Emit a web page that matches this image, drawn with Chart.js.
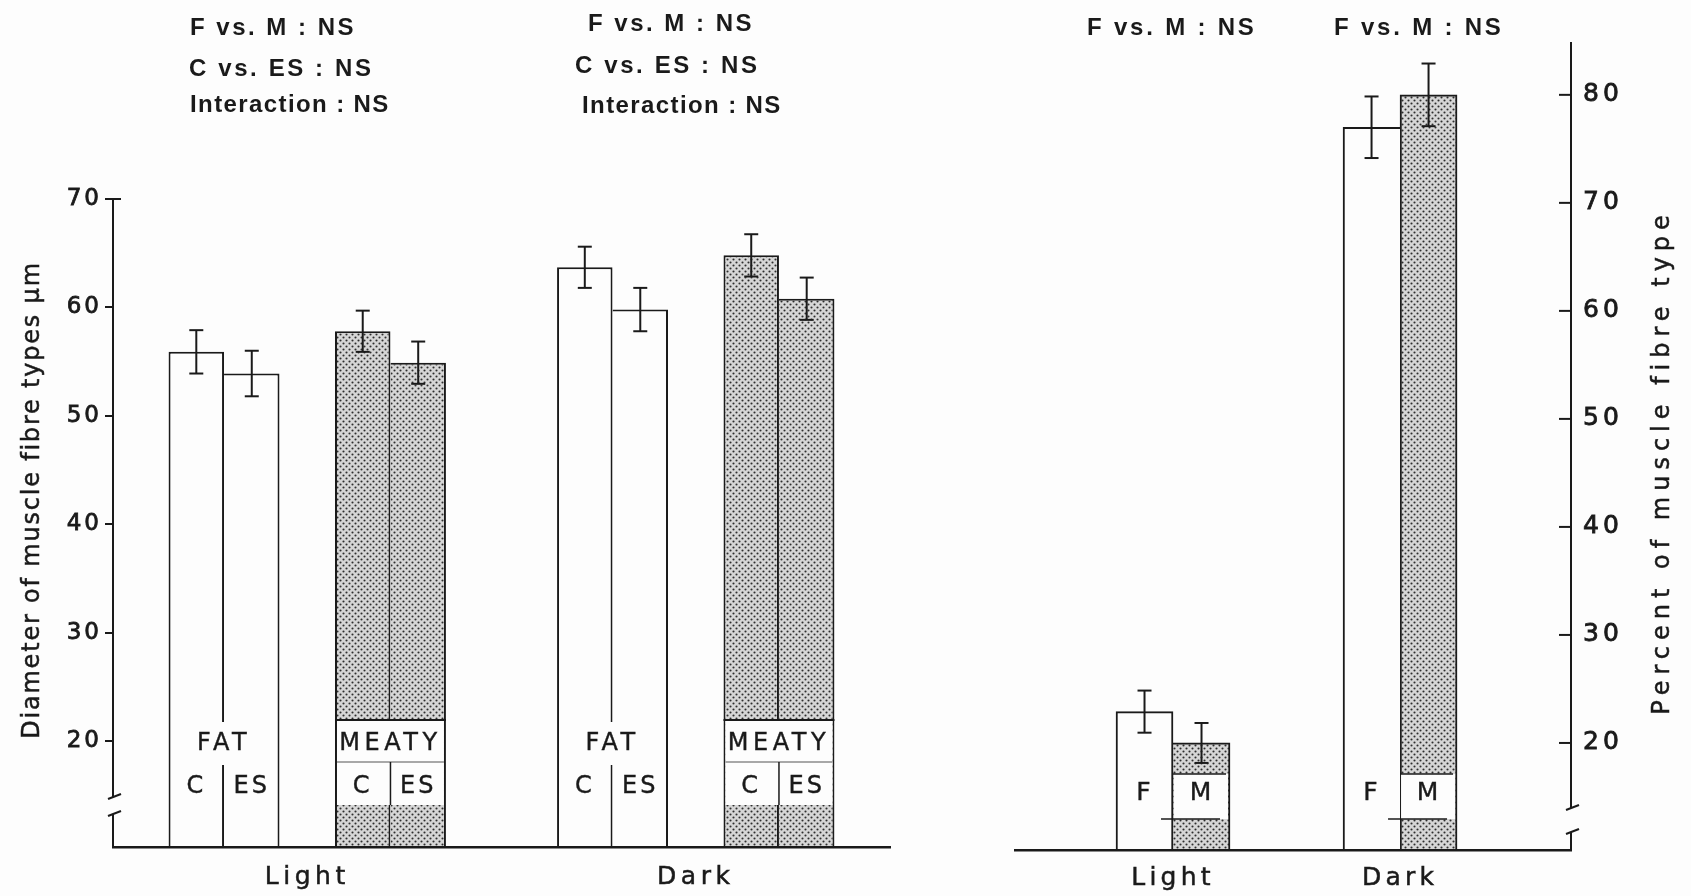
<!DOCTYPE html>
<html lang="en">
<head>
<meta charset="UTF-8">
<title>Muscle fibre types</title>
<style>
    body { margin: 0; background: #fdfdfd; }
    .wrap { position: relative; width: 1691px; height: 896px; }
    .wrap canvas { position: absolute; left: 0; top: 0; }
</style>
</head>
<body>
<div class="wrap">
    <canvas id="diameter" width="1691" height="896"></canvas>
    <canvas id="percent" width="1691" height="896"></canvas>
</div>

<script src="https://cdn.jsdelivr.net/npm/chart.js@4"></script>
<script>
// ---- data ----
var groups = ['Light', 'Dark'];
var breeds = ['FAT', 'MEATY'];
var treatments = ['C', 'ES'];
var fatC = [55.9, 63.7];
var fatES = [53.9, 59.8];
var meatyC = [57.8, 64.8];
var meatyES = [54.9, 60.8];
var fatCErr = [2.0, 1.9];
var fatESErr = [2.1, 2.0];
var meatyCErr = [1.9, 1.95];
var meatyESErr = [1.95, 1.95];
var diameterTicks = [20, 30, 40, 50, 60, 70];

var sexes = ['F', 'M'];
var pctF = [22.9, 77.0];
var pctM = [20.0, 80.0];
var pctFErr = [1.95, 2.85];
var pctMErr = [1.85, 2.9];
var percentTicks = [20, 30, 40, 50, 60, 70, 80];

var statsDiameter = [
    ['F vs. M : NS', 'C vs. ES : NS', 'Interaction : NS'],
    ['F vs. M : NS', 'C vs. ES : NS', 'Interaction : NS']
];
var statsPercent = ['F vs. M : NS', 'F vs. M : NS'];

var ink = '#1a1a1a';
var paper = '#fdfdfd';
var sans = 'DejaVu Sans';
var statFont = 'Liberation Sans';

// stippled fill for the meaty / male bars
function stipple(ctx) {
    var c = document.createElement('canvas');
    c.width = 6; c.height = 6;
    var g = c.getContext('2d');
    g.fillStyle = '#d6d6d6';
    g.fillRect(0, 0, 6, 6);
    g.fillStyle = '#2e2e2e';
    [[1.5, 1.5], [4.5, 4.5]].forEach(function (p) {
        g.beginPath();
        g.arc(p[0], p[1], 1.05, 0, Math.PI * 2);
        g.fill();
    });
    return ctx.createPattern(c, 'repeat');
}

function text(ctx, str, x, y, size, spacing, align, rot, family, weight, stroke) {
    ctx.save();
    ctx.font = (weight || 'normal') + ' ' + size + 'px "' + (family || sans) + '"';
    ctx.letterSpacing = spacing + 'px';
    ctx.fillStyle = ink;
    ctx.strokeStyle = ink;
    ctx.textAlign = align || 'center';
    ctx.textBaseline = 'middle';
    ctx.translate(x, y);
    if (rot) ctx.rotate(rot);
    ctx.fillText(str, 0, 0);
    if (stroke) {
        ctx.lineWidth = stroke;
        ctx.strokeText(str, 0, 0);
    }
    ctx.restore();
}

function line(ctx, x1, y1, x2, y2, w, color) {
    ctx.save();
    ctx.strokeStyle = color || ink;
    ctx.lineWidth = w;
    ctx.beginPath();
    ctx.moveTo(x1, y1);
    ctx.lineTo(x2, y2);
    ctx.stroke();
    ctx.restore();
}

function errorBars(chart) {
    var ctx = chart.ctx, ys = chart.scales.y;
    chart.data.datasets.forEach(function (ds, i) {
        if (!ds.err) return;
        chart.getDatasetMeta(i).data.forEach(function (bar, j) {
            var v = ds.data[j];
            if (v !== null && typeof v === 'object') v = v.y;
            var top = ys.getPixelForValue(v + ds.err[j]);
            var bot = ys.getPixelForValue(v - ds.err[j]);
            line(ctx, bar.x, top, bar.x, bot, 2);
            line(ctx, bar.x - 7, top, bar.x + 7, top, 2);
            line(ctx, bar.x - 7, bot, bar.x + 7, bot, 2);
        });
    });
}

function axisBreak(ctx, x, y1, y2) {
    ctx.save();
    ctx.fillStyle = paper;
    ctx.fillRect(x - 3, y1, 6, y2 - y1);
    ctx.restore();
    line(ctx, x - 5, y1 + 2, x + 8, y1 - 3, 2);
    line(ctx, x - 5, y2 + 2, x + 8, y2 - 3, 2);
}

// two bars share one divider: the taller bar of the pair draws it
function bar(label, data, partner, err, fill, first) {
    return {
        label: label,
        data: data,
        err: err,
        backgroundColor: fill,
        borderColor: ink,
        borderWidth: function (c) {
            var v = data[c.dataIndex], o = partner[c.dataIndex];
            if (v !== null && typeof v === 'object') { v = v.y; o = o.y; }
            var inner = v >= o ? 2 : 0;
            return first ? { top: 2, left: 2, right: inner, bottom: 0 }
                         : { top: 2, left: inner, right: 2, bottom: 0 };
        }
    };
}

// ---- left: fibre diameter ----
var dCtx = document.getElementById('diameter').getContext('2d');
var dots = stipple(dCtx);

var diameterPlugin = {
    id: 'diameterExtras',
    beforeDraw: function (chart) {
        chart.ctx.letterSpacing = '3px';
    },
    afterDatasetsDraw: function (chart) {
        var ctx = chart.ctx, base = chart.chartArea.bottom;
        var m = [0, 1, 3, 4].map(function (i) { return chart.getDatasetMeta(i).data; });
        groups.forEach(function (g, j) {
            // FAT pair
            var c = m[0][j], es = m[1][j];
            var mid = c.x + c.width / 2;
            ctx.fillStyle = paper;
            ctx.fillRect(mid - 32, base - 125, 64, 43);
            text(ctx, breeds[0], mid, base - 103, 24, 4.5, 'center', 0, sans, 'normal', 0.4);
            text(ctx, treatments[0], c.x, base - 60, 24, 3, 'center', 0, sans, 'normal', 0.4);
            text(ctx, treatments[1], es.x, base - 60, 24, 3, 'center', 0, sans, 'normal', 0.4);
            // MEATY pair
            var mc = m[2][j], me = m[3][j];
            var l = mc.x - mc.width / 2, r = me.x + me.width / 2, d = mc.x + mc.width / 2;
            ctx.fillStyle = paper;
            ctx.fillRect(l + 2, base - 127, r - l - 4, 85);
            line(ctx, l, base - 127, r, base - 127, 2);
            line(ctx, l + 2, base - 85, r - 2, base - 85, 1.2, '#555');
            line(ctx, d, base - 85, d, base - 42, 1.5);
            text(ctx, breeds[1], (l + r) / 2, base - 103, 24, 4.5, 'center', 0, sans, 'normal', 0.4);
            text(ctx, treatments[0], mc.x, base - 60, 24, 3, 'center', 0, sans, 'normal', 0.4);
            text(ctx, treatments[1], me.x, base - 60, 24, 3, 'center', 0, sans, 'normal', 0.4);
        });
        errorBars(chart);
        chart.ctx.letterSpacing = '4.5px';
    },
    afterDraw: function (chart) {
        var ctx = chart.ctx, a = chart.chartArea;
        ctx.letterSpacing = '0px';
        axisBreak(ctx, a.left, 797, 814);
        line(ctx, a.left - 1, a.top, a.left + 8, a.top, 2);
        text(ctx, 'Diameter of muscle fibre types \u00b5m', 33, 500, 24, 1.8, 'center', -Math.PI / 2, sans, 'normal', 0.5);
        var pos = [[[190, 28], [189, 69], [190, 105]], [[588, 24], [575, 66], [582, 106]]];
        var gap = [2.5, 2.6, 1.4];
        statsDiameter.forEach(function (lines, j) {
            lines.forEach(function (s, k) {
                text(ctx, s, pos[j][k][0], pos[j][k][1], 24, gap[k], 'left', 0, statFont, 'bold');
            });
        });
    }
};

new Chart(dCtx, {
    type: 'bar',
    data: {
        labels: groups,
        datasets: [
            bar(breeds[0] + ' ' + treatments[0], fatC, fatES, fatCErr, paper, true),
            bar(breeds[0] + ' ' + treatments[1], fatES, fatC, fatESErr, paper, false),
            { label: '', data: groups.map(function () { return null; }) },
            bar(breeds[1] + ' ' + treatments[0], meatyC, meatyES, meatyCErr, dots, true),
            bar(breeds[1] + ' ' + treatments[1], meatyES, meatyC, meatyESErr, dots, false)
        ]
    },
    options: {
        responsive: false,
        animation: false,
        layout: { padding: { top: 199, left: 0, right: 801, bottom: 0 } },
        datasets: { bar: { barPercentage: 1, categoryPercentage: 0.714 } },
        plugins: { legend: { display: false }, tooltip: { enabled: false } },
        scales: {
            x: {
                grid: { display: false, drawTicks: false },
                border: { color: ink, width: 2.5, z: 1 },
                ticks: {
                    color: ink, padding: 15, maxRotation: 0, z: 1,
                    textStrokeColor: ink, textStrokeWidth: 0.5,
                    font: { family: sans, size: 25 }
                },
                afterFit: function (s) { s.height = 49; }
            },
            y: {
                min: 10.22,
                max: 70,
                grid: { display: true, drawOnChartArea: false, drawTicks: true, tickLength: 8, color: ink, lineWidth: 2 },
                border: { color: ink, width: 2, z: 1 },
                ticks: { color: ink, padding: 3, textStrokeColor: ink, textStrokeWidth: 0.8, font: { family: sans, size: 23 } },
                afterBuildTicks: function (s) { s.ticks = diameterTicks.map(function (v) { return { value: v }; }); },
                afterFit: function (s) { s.width = 113; }
            }
        }
    },
    plugins: [diameterPlugin]
});

// ---- right: percent of fibre type ----
var pCtx = document.getElementById('percent').getContext('2d');
var dots2 = stipple(pCtx);

var percentPlugin = {
    id: 'percentExtras',
    beforeDraw: function (chart) {
        chart.ctx.letterSpacing = '4px';
    },
    afterDatasetsDraw: function (chart) {
        var ctx = chart.ctx, base = chart.chartArea.bottom, ys = chart.scales.y;
        var f = chart.getDatasetMeta(0).data, mm = chart.getDatasetMeta(1).data;
        f.forEach(function (fb, j) {
            var mb = mm[j];
            var l = mb.x - mb.width / 2, r = mb.x + mb.width / 2;
            ctx.fillStyle = paper;
            ctx.fillRect(l + 1, base - 76, r - l - 3, 45);
            line(ctx, l, base - 76, r - 4, base - 76, 1.5);
            line(ctx, l - 12, base - 31, r - 10, base - 31, 1.5);
            text(ctx, sexes[0], fb.x, base - 57, 25, 2, 'center', 0, sans, 'normal', 0.4);
            text(ctx, sexes[1], mb.x, base - 57, 25, 2, 'center', 0, sans, 'normal', 0.4);
        });
        errorBars(chart);
        // inward tick marks on the right axis
        var ax = chart.chartArea.right;
        percentTicks.forEach(function (v) {
            var y = ys.getPixelForValue(v);
            line(ctx, ax - 12, y, ax, y, 2);
        });
        chart.ctx.letterSpacing = '4.2px';
    },
    afterDraw: function (chart) {
        var ctx = chart.ctx, a = chart.chartArea;
        ctx.letterSpacing = '0px';
        axisBreak(ctx, a.right, 808, 832);
        text(ctx, 'Percent of muscle fibre type', 1663, 462, 24, 6, 'center', -Math.PI / 2, sans, 'normal', 0.5);
        var pos = [[1087, 28], [1334, 28]];
        statsPercent.forEach(function (s, j) {
            text(ctx, s, pos[j][0], pos[j][1], 24, 2.8, 'left', 0, statFont, 'bold');
        });
    }
};

function points(vals) {
    return vals.map(function (v, i) { return { x: i + 1, y: v }; });
}
var fPts = points(pctF), mPts = points(pctM);

new Chart(pCtx, {
    type: 'bar',
    data: {
        datasets: [
            bar(sexes[0], fPts, mPts, pctFErr, paper, true),
            bar(sexes[1], mPts, fPts, pctMErr, dots2, false)
        ]
    },
    options: {
        responsive: false,
        animation: false,
        layout: { padding: { top: 43, left: 1015, right: 0, bottom: 0 } },
        datasets: { bar: { barThickness: 57 } },
        plugins: { legend: { display: false }, tooltip: { enabled: false } },
        scales: {
            x: {
                type: 'linear',
                offset: false,
                min: 0.304,
                max: 2.753,
                grid: { display: false, drawTicks: false },
                border: { color: ink, width: 2.5, z: 1 },
                ticks: {
                    color: ink, padding: 13, maxRotation: 0, z: 1,
                    textStrokeColor: ink, textStrokeWidth: 0.5,
                    font: { family: sans, size: 25 },
                    callback: function (v, i) { return groups[i]; }
                },
                afterBuildTicks: function (s) { s.ticks = groups.map(function (g, i) { return { value: i + 1 }; }); },
                afterFit: function (s) { s.height = 46; }
            },
            y: {
                position: 'right',
                min: 10.09,
                max: 84.8,
                grid: { display: false, drawTicks: false },
                border: { color: ink, width: 2, z: 1 },
                ticks: { color: ink, padding: 12, textStrokeColor: ink, textStrokeWidth: 0.8, font: { family: sans, size: 25 } },
                afterBuildTicks: function (s) { s.ticks = percentTicks.map(function (v) { return { value: v }; }); },
                afterFit: function (s) { s.width = 120; }
            }
        }
    },
    plugins: [percentPlugin]
});
</script>
</body>
</html>
